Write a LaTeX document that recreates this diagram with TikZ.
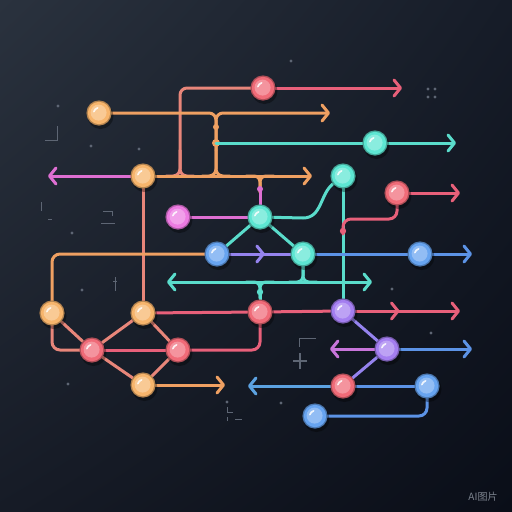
\documentclass[tikz,border=0pt]{standalone}
\usepackage{fontspec}
\newfontfamily\cjkfont{Noto Sans CJK SC}
\usetikzlibrary{arrows.meta,decorations.markings,calc,shadings}
\definecolor{cBall-red}{HTML}{F06B78}
\definecolor{cBall-orange}{HTML}{F7B56C}
\definecolor{cBall-teal}{HTML}{5DE6D2}
\definecolor{cBall-blue}{HTML}{67A4F0}
\definecolor{cBall-purple}{HTML}{A47EF0}
\definecolor{cBall-pink}{HTML}{EC7BE2}
\definecolor{cRedL}{HTML}{E8607A}
\definecolor{cSalmon}{HTML}{E8867A}
\definecolor{cOrangeL}{HTML}{EFA062}
\definecolor{cCyanL}{HTML}{5ADCCB}
\definecolor{cBlueL}{HTML}{5C93E6}
\definecolor{cLav}{HTML}{9583EE}
\definecolor{cPinkL}{HTML}{DE6FD2}
\definecolor{cGrey}{HTML}{5E6674}
\definecolor{bgUL}{HTML}{2A323E}
\definecolor{bgUR}{HTML}{161C28}
\definecolor{bgLL}{HTML}{161B26}
\definecolor{bgLR}{HTML}{0A0E18}
\newcommand\ballat[2]{%
  \fill[black,opacity=0.35] ($(#1.center)+(1.5,3)$) circle (13);
  \fill[#2!72!black] (#1.center) circle (12.6);
  \fill[#2] (#1.center) circle (11.2);
  \fill[#2!72!white] ($(#1.center)+(-0.4,-0.4)$) circle (8);
  \draw[white,opacity=0.85,line width=1.7pt,line cap=round] ($(#1.center)+(195:5.3)$) arc[start angle=195,end angle=255,radius=5.3];
}
\begin{document}
\begin{tikzpicture}[x=1pt,y=-1pt,
  wire/.style={line width=3pt,line cap=round,line join=round},
  arr/.style={wire,-{Straight Barb[length=6.5pt,width=16pt,round]}},
  hub/.style={circle,minimum size=25pt,inner sep=0pt},
  midarr/.style={postaction={decorate},decoration={markings,mark=at position #1 with {\arrow{Straight Barb[length=6.5pt,width=16pt,round]}}}},
  speck/.style={fill=cGrey},
  tick/.style={draw=cGrey,line width=1pt}]
\useasboundingbox (0,0) rectangle (512,512);
\shade[upper left=bgUL,upper right=bgUR,lower left=bgLL,lower right=bgLR] (0,0) rectangle (512,512);

% decorations
\foreach \p in {(58,106),(91,146),(139,149),(72,233),(82,290),(68,384),(227,402),(392,289),(431,333),(281,403),(291,61),(428,89),(435,89),(428,97),(435,97)}
  \fill[speck] \p circle (1.6);
\draw[tick] (57,126) -- (57,140) -- (45,140);
\draw[tick] (41,202) -- (41,211);
\draw[tick] (48,219) -- (52,219);
\draw[tick] (103,211) -- (112,211) -- (112,216);
\draw[tick] (101,223) -- (115,223);
\draw[tick] (115,277) -- (115,291) (113,281) -- (117,281);
\draw[tick] (227,407) -- (227,412) -- (233,412);
\draw[tick] (227,417) -- (227,421) (235,419) -- (242,419);
\draw[tick] (316,338) -- (299,338) -- (299,347);
\draw[tick,line width=1.3pt] (300,353) -- (300,369) (293,361) -- (307,361);
\node[text=cGrey!80!white,font=\cjkfont\fontsize{10}{12}\selectfont] (wm) at (483,497) {AI图片};

% hubs
\node[hub] (N1) at (263,88) {};
\node[hub] (N2) at (99,113) {};
\node[hub] (N3) at (375,143) {};
\node[hub] (N4) at (143,176) {};
\node[hub] (N5) at (343,176) {};
\node[hub] (N7) at (397,193) {};
\node[hub] (N8) at (178,217) {};
\node[hub] (N6) at (260,217) {};
\node[hub] (N9) at (217,254) {};
\node[hub] (N11) at (303,254) {};
\node[hub] (N13) at (420,254) {};
\node[hub] (N12) at (52,313) {};
\node[hub] (N10) at (143,313) {};
\node[hub] (N14) at (260,312) {};
\node[hub] (N18) at (343,311) {};
\node[hub] (N15) at (92,350) {};
\node[hub] (N16) at (178,350) {};
\node[hub] (N19) at (387,349) {};
\node[hub] (N17) at (143,385) {};
\node[hub] (N20) at (343,386) {};
\node[hub] (N21) at (427,386) {};
\node[hub] (N22) at (315,416) {};

% free ends and junctions
\coordinate (e1) at (402,88);
\coordinate (e2) at (330,113);
\coordinate (e3) at (456,143);
\coordinate (e4l) at (48,176);
\coordinate (e4r) at (312,176);
\coordinate (e7) at (460,193);
\coordinate (e13) at (472,254);
\coordinate (ecl) at (167,282);
\coordinate (ecr) at (372,282);
\coordinate (e18) at (460,311);
\coordinate (e17) at (225,385);
\coordinate (e19l) at (330,349);
\coordinate (e19r) at (472,349);
\coordinate (e20) at (248,386);
\coordinate (jT) at (216,113);
\coordinate (jA) at (216,143);
\coordinate (jB) at (303,282);

% connectors
\draw[arr,cRedL] (N1) -- (e1);
\draw[wire,cSalmon,rounded corners=7] (N1.center) -- (180,88) -- (180,176) -- (166,176);
\draw[wire,cSalmon,rounded corners=7] (180,150) -- (180,176) -- (194,176);
\draw[wire,cOrangeL,rounded corners=7] (N2.center) -- (jT) -- (216,176) -- (202,176);
\draw[arr,cOrangeL,rounded corners=7] (216,150) -- (jT) -- (e2);
\draw[wire,cOrangeL,rounded corners=7] (216,150) -- (216,176) -- (230,176);
\fill[cOrangeL] (216,127) circle (3);
\fill[cOrangeL] (jA) circle (4);
\draw[wire,cCyanL] (jA) -- (N3);
\draw[arr,cCyanL] (N3) -- (e3);
\draw[arr,cPinkL] (N4) -- (e4l);
\draw[arr,cOrangeL] (N4) -- (e4r);
\draw[wire,cSalmon] (N4) -- (N10);
\draw[wire,cOrangeL,rounded corners=6] (246,176) -- (260,176) -- (260,192);
\draw[wire,cOrangeL,rounded corners=6] (274,176) -- (260,176) -- (260,192);
\draw[wire,cPinkL] (260,189) -- (N6);
\fill[cPinkL] (260,189) circle (3);
\draw[wire,cCyanL] (N6) -- (303,218) .. controls (322,218) and (320,194) .. (N5);
\draw[wire,cCyanL] (N5) -- (N18);
\draw[arr,cRedL] (N7) -- (e7);
\draw[wire,cRedL,rounded corners=8] (N7.center) -- (397,219) -- (343,219) -- (343,234);
\fill[cRedL] (343,231) circle (3.2);
\draw[wire,cPinkL] (N8) -- (N6);
\draw[wire,cCyanL] (N6) -- (N9);
\draw[wire,cCyanL] (N6) -- (N11);
\draw[wire,cLav,midarr=0.58] (N9) -- (N11);
\draw[wire,cOrangeL,rounded corners=8] (N9.center) -- (52,254) -- (N12.center);
\draw[wire,cBlueL] (N11) -- (N13);
\draw[arr,cBlueL] (N13) -- (e13);
\draw[wire,cCyanL,rounded corners=6] (N11.center) -- (jB) -- (289,282);
\draw[wire,cCyanL,rounded corners=6] (N11.center) -- (jB) -- (317,282);
\draw[arr,cCyanL] (jB) -- (ecl);
\draw[arr,cCyanL] (jB) -- (ecr);
\draw[wire,cCyanL,rounded corners=6] (246,282) -- (260,282) -- (260,298);
\draw[wire,cCyanL,rounded corners=6] (274,282) -- (260,282) -- (260,298);
\draw[wire,cCyanL] (260,292) -- (N14);
\fill[cCyanL] (260,292) circle (3.2);
\draw[wire,cRedL] (N10) -- (N14);
\draw[wire,cRedL] (N14) -- (N18);
\draw[arr,cRedL,midarr=0.42] (N18) -- (e18);
\draw[wire,cRedL,rounded corners=8] (N14.center) -- (260,350) -- (N16.center);
\draw[wire,cSalmon,rounded corners=8] (N12.center) -- (52,350) -- (N15.center);
\draw[wire,cSalmon] (N12) -- (N15);
\draw[wire,cSalmon] (N10) -- (N15);
\draw[wire,cSalmon] (N10) -- (N16);
\draw[wire,cRedL] (N15) -- (N16);
\draw[wire,cSalmon] (N15) -- (N17);
\draw[wire,cSalmon] (N16) -- (N17);
\draw[arr,cOrangeL] (N17) -- (e17);
\draw[wire,cLav] (N18) -- (N19);
\draw[wire,cLav] (N19) -- (N20);
\draw[arr,cPinkL!70!cLav] (N19) -- (e19l);
\draw[arr,cBlueL] (N19) -- (e19r);
\draw[arr,cBlueL!80!cCyanL] (N20) -- (e20);
\draw[wire,cBlueL] (N20) -- (N21);
\draw[wire,cBlueL,rounded corners=8] (N21.center) -- (427,416) -- (N22.center);

% hub faces
\ballat{N1}{cBall-red}
\ballat{N2}{cBall-orange}
\ballat{N3}{cBall-teal}
\ballat{N4}{cBall-orange}
\ballat{N5}{cBall-teal}
\ballat{N6}{cBall-teal}
\ballat{N7}{cBall-red}
\ballat{N8}{cBall-pink}
\ballat{N9}{cBall-blue}
\ballat{N10}{cBall-orange}
\ballat{N11}{cBall-teal}
\ballat{N12}{cBall-orange}
\ballat{N13}{cBall-blue}
\ballat{N14}{cBall-red}
\ballat{N15}{cBall-red}
\ballat{N16}{cBall-red}
\ballat{N17}{cBall-orange}
\ballat{N18}{cBall-purple}
\ballat{N19}{cBall-purple}
\ballat{N20}{cBall-red}
\ballat{N21}{cBall-blue}
\ballat{N22}{cBall-blue}
\end{tikzpicture}
\end{document}
